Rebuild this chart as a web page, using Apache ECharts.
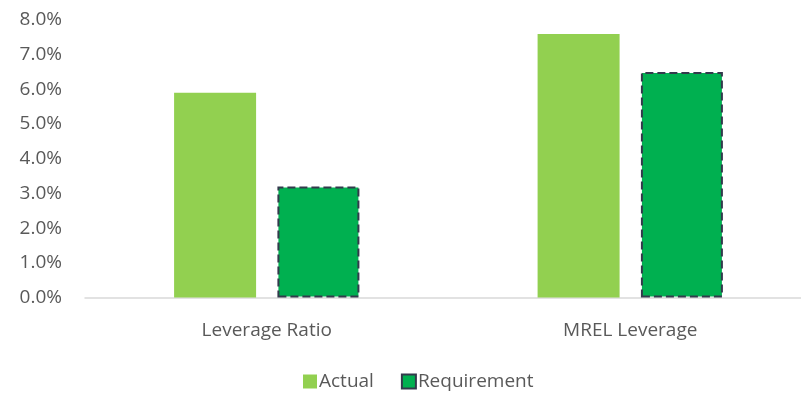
<!DOCTYPE html>
<html>
<head>
<meta charset="utf-8">
<script src="https://cdn.jsdelivr.net/npm/echarts@6/dist/echarts.min.js"></script>
<style>
  html, body { margin: 0; padding: 0; background: #fff; overflow: hidden; }
  #chart { width: 812px; height: 393px; }
</style>
</head>
<body>
<div id="chart"></div>
<script>
var categories = ['Leverage Ratio', 'MREL Leverage']
var actual = [5.9, 7.6]
var requirement = [3.2, 6.5]
var yTicks = [0, 1, 2, 3, 4, 5, 6, 7, 8]

var font = '"Open Sans", sans-serif'
var mychart = echarts.init(document.getElementById('chart'))

var option = {
  animation: false,
  textStyle: { fontFamily: font },
  grid: { left: 85, top: 20, right: 0, bottom: 95.5 },
  legend: {
    top: 367,
    left: 298,
    icon: 'rect',
    itemWidth: 14,
    itemHeight: 14,
    itemGap: 27,
    textStyle: { color: '#595959', fontSize: 19, fontFamily: font, padding: [0, 0, 0, -3] },
    data: ['Actual', 'Requirement']
  },
  xAxis: {
    type: 'category',
    data: categories,
    axisLine: { lineStyle: { color: '#d9d9d9', width: 1.5 } },
    axisTick: { show: false },
    axisLabel: { color: '#595959', fontSize: 19, margin: 24, fontFamily: font }
  },
  yAxis: {
    type: 'value',
    min: yTicks[0],
    max: yTicks[yTicks.length - 1],
    interval: 1,
    splitLine: { show: false },
    axisLine: { show: false },
    axisTick: { show: false },
    axisLabel: {
      color: '#595959', fontSize: 19, margin: 23, fontFamily: font,
      formatter: function (v) { return v.toFixed(1) + '%' }
    }
  },
  series: [
    {
      name: 'Actual',
      type: 'bar',
      data: actual,
      barWidth: 82,
      barGap: '26%',
      itemStyle: { color: '#92d050' }
    },
    {
      name: 'Requirement',
      type: 'bar',
      data: requirement,
      barWidth: 82,
      itemStyle: {
        color: '#00b050',
        borderColor: '#333a4c',
        borderWidth: 2,
        borderType: [8, 4]
      }
    }
  ]
}

option && mychart.setOption(option)
</script>
</body>
</html>
